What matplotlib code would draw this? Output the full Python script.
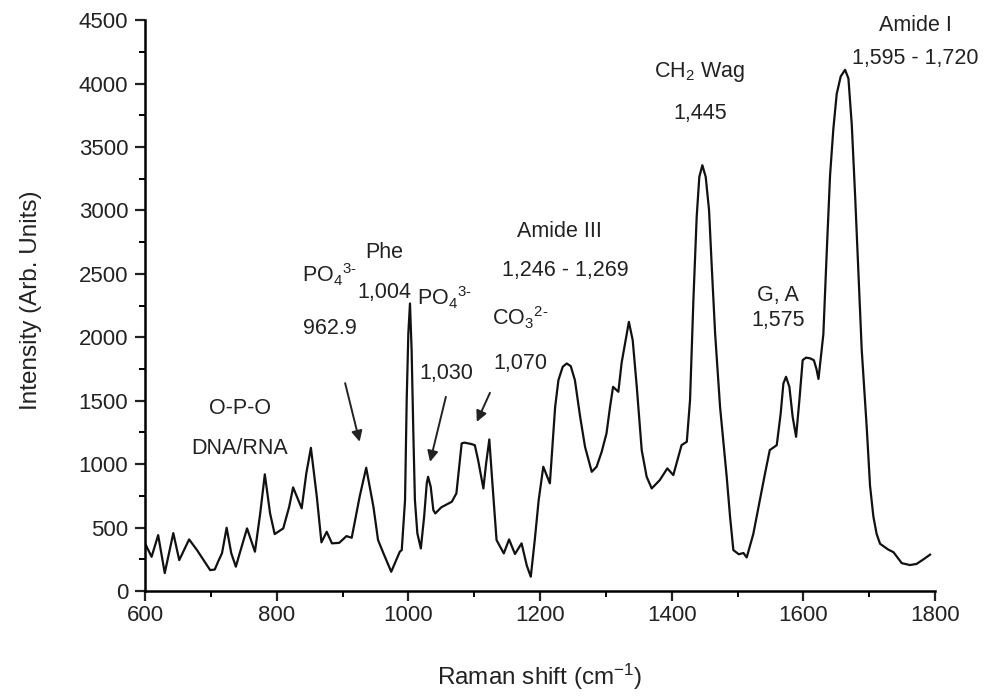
import matplotlib
matplotlib.use("Agg")
import matplotlib.pyplot as plt
from matplotlib.ticker import MultipleLocator

plt.rcParams["font.family"] = ["Liberation Sans", "DejaVu Sans"]
plt.rcParams["mathtext.fontset"] = "custom"
plt.rcParams["mathtext.rm"] = "Liberation Sans"
plt.rcParams["mathtext.it"] = "Liberation Sans"

# Raman spectrum
shift = [600, 610, 620, 630, 643, 652, 667, 679, 699, 706, 711, 717, 724, 731, 738,
         744, 755, 767, 775, 782, 790, 797, 810, 819, 825, 838, 845, 852, 861, 868,
         876, 884, 895, 906, 914, 926, 936, 947, 954, 962, 974, 987, 990, 995, 997.5,
         1000, 1002.5, 1005, 1007.6, 1010, 1013.7, 1019, 1024, 1028, 1030, 1034, 1038,
         1041, 1050, 1066, 1073, 1081, 1085, 1095, 1101, 1106, 1114, 1118, 1123, 1127,
         1134, 1145, 1153, 1162, 1172, 1180, 1186, 1192, 1198, 1205, 1215, 1223, 1228,
         1234.5, 1240.6, 1246.7, 1253, 1261, 1268.4, 1278.6, 1286, 1293.7, 1301, 1306.4,
         1311, 1319, 1324, 1335, 1340.8, 1347, 1354.5, 1362, 1369.7, 1382, 1393.4,
         1402.5, 1415, 1423, 1427.9, 1433, 1438, 1442, 1446.6, 1451.7, 1456.8, 1460.9,
         1466, 1473.5, 1483.6, 1488.7, 1493.7, 1502, 1509, 1514, 1524, 1534, 1541.8,
         1549, 1559.6, 1565.6, 1569.7, 1573.7, 1578.8, 1583.8, 1589, 1594, 1599, 1604,
         1610, 1616, 1620, 1623, 1630.4, 1635.5, 1640.6, 1645.6, 1650.7, 1656.8, 1663.4,
         1668.5, 1673.6, 1678.6, 1683.6, 1688.7, 1696.3, 1701.3, 1706.4, 1711.4, 1716.5,
         1729, 1737, 1749.5, 1762, 1772, 1782.5, 1792.5]
intensity = [376, 270, 441, 142, 457, 244, 407, 323, 165, 170, 231, 299, 499, 299, 192,
             300, 494, 310, 612, 920, 612, 449, 494, 664, 817, 652, 927, 1129, 743, 384,
             467, 376, 380, 433, 420, 743, 972, 664, 402, 300, 152, 310, 323, 717, 1505,
             2031, 2267, 1899, 1245, 717, 455, 336, 586, 849, 901, 822, 638,
             612, 660, 704, 770, 1164, 1170, 1160, 1150, 1032, 809, 1000, 1195, 900,
             402, 297, 407, 292, 376, 200, 113, 400, 717, 980, 849, 1452, 1663,
             1768, 1794, 1773, 1663, 1373, 1137, 940, 980, 1098, 1243, 1452,
             1610, 1571, 1800, 2122, 1978, 1610, 1111, 901, 809, 875, 967,
             914, 1150, 1177, 1505, 2293, 2950, 3265, 3357, 3265, 3002, 2556,
             2031, 1452, 901, 586, 323, 290, 300, 265, 450, 717, 927,
             1111, 1150, 1400, 1636, 1689, 1610, 1373, 1216, 1505, 1820, 1840,
             1835, 1820, 1749, 1672, 2024, 2666, 3277, 3644, 3919, 4057, 4109,
             4041, 3675, 3124, 2513, 1901, 1290, 831, 587, 449, 373,
             327, 306, 220, 205, 214, 250, 287]

# band labels: (text, x, y)
labels = [
    ("O-P-O", 744, 1442), ("DNA/RNA", 744, 1127),
    ("PO$_4$$^{3\\text{-}}$", 881, 2490), ("962.9", 881, 2073),
    ("Phe", 963, 2671), ("1,004", 963, 2356),
    ("PO$_4$$^{3\\text{-}}$", 1055, 2309), ("1,030", 1058, 1718),
    ("CO$_3$$^{2\\text{-}}$", 1170, 2151), ("1,070", 1170, 1797),
    ("Amide III", 1230, 2832), ("1,246 - 1,269", 1238, 2530),
    ("CH$_2$ Wag", 1443, 4090), ("1,445", 1443, 3767),
    ("G, A", 1562, 2333), ("1,575", 1562, 2135),
    ("Amide I", 1770, 4460), ("1,595 - 1,720", 1770, 4200),
]

# arrows: (tail, head)
arrows = [
    ((904, 1639), (926, 1177)),
    ((1057, 1531), (1033, 1019)),
    ((1124, 1563), (1104, 1334)),
]

fig = plt.figure(figsize=(10, 6.97), dpi=100)
ax = fig.add_axes([0.145, 0.152, 0.79, 0.819])

ax.plot(shift, intensity, color="#111111", lw=1.6)

for txt, x, y in labels:
    ax.text(x, y, txt, ha="center", va="center", fontsize=15.5, color="#222222")

for tail, head in arrows:
    ax.annotate("", xy=head, xytext=tail,
                arrowprops=dict(arrowstyle="-|>", color="#222222", lw=1.4,
                                mutation_scale=16, shrinkA=0, shrinkB=0))

ax.set_xlim(600, 1800)
ax.set_ylim(0, 4500)
ax.xaxis.set_major_locator(MultipleLocator(200))
ax.xaxis.set_minor_locator(MultipleLocator(100))
ax.yaxis.set_major_locator(MultipleLocator(500))
ax.yaxis.set_minor_locator(MultipleLocator(250))
ax.tick_params(which="major", direction="out", length=7, width=1.6, labelsize=16,
               colors="#222222")
ax.tick_params(axis="y", which="major", pad=5)
ax.tick_params(axis="x", which="major", pad=3)
ax.tick_params(which="minor", direction="out", length=4, width=1.4)

for side in ["top", "right"]:
    ax.spines[side].set_visible(False)
for side in ["left", "bottom"]:
    ax.spines[side].set_linewidth(1.8)

ax.set_xlabel("Raman shift (cm$^{-1}$)", fontsize=17.5, color="#222222")
ax.set_ylabel("Intensity (Arb. Units)", fontsize=17.5, color="#222222")
ax.xaxis.set_label_coords(0.5, -0.124)
ax.yaxis.set_label_coords(-0.13, 0.51)

fig.savefig("out.png", dpi=100)
